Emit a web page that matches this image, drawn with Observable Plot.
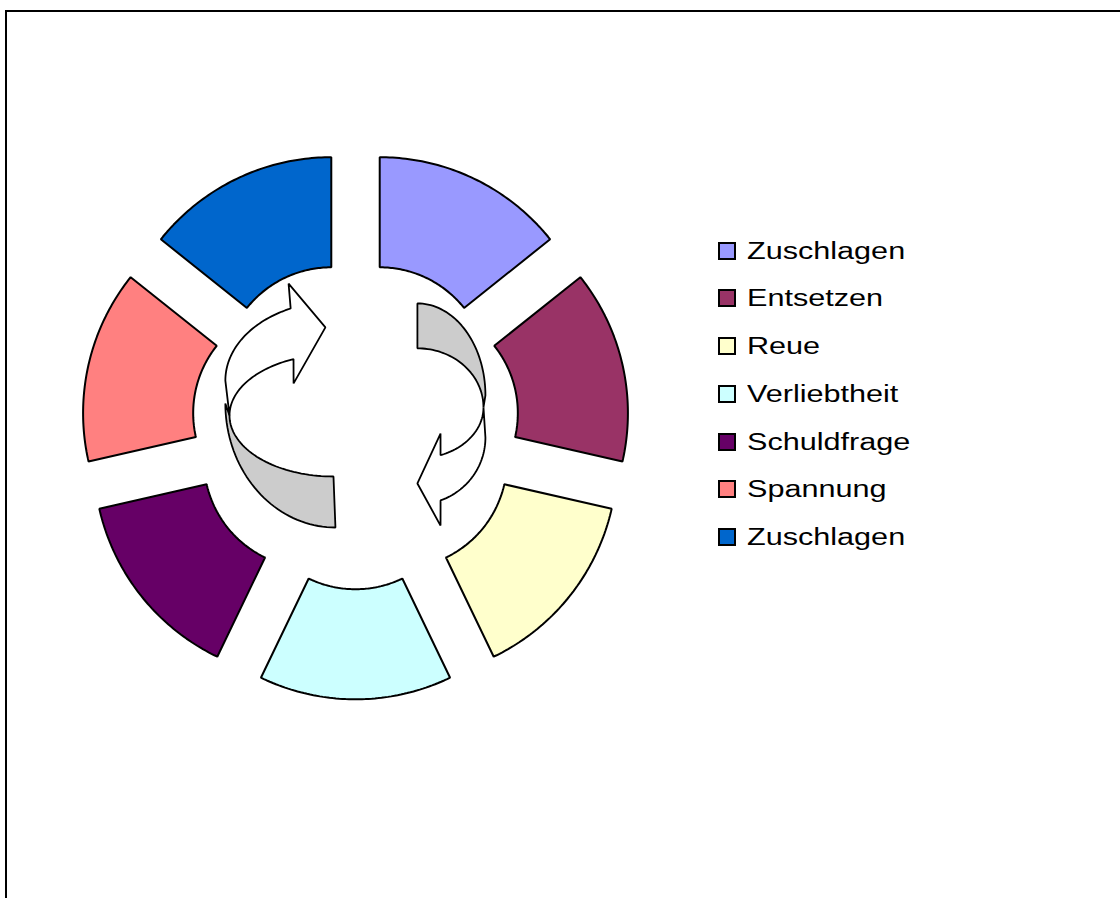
<!DOCTYPE html>
<html>
<head>
<meta charset="utf-8">
<script src="https://cdn.jsdelivr.net/npm/d3@7"></script>
<script src="https://cdn.jsdelivr.net/npm/@observablehq/plot@0.6"></script>
<style>
  html, body { margin: 0; padding: 0; background: #fff; overflow: hidden; }
  #wrap { position: relative; width: 1120px; height: 898px; overflow: hidden; }
  #frame { position: absolute; left: 5px; top: 10px; width: 1115px; height: 888px; border-top: 2px solid #000; border-left: 2px solid #000; box-sizing: border-box; }
  #chart { position: absolute; left: 0; top: 0; }
  #legend { position: absolute; left: 718px; top: 0; font-family: "Liberation Sans", Arial, sans-serif; font-size: 23px; color: #000; }
  .item { position: absolute; left: 0; height: 18px; white-space: nowrap; }
  .sw { position: absolute; left: 0; top: 0; width: 18px; height: 18px; box-sizing: border-box; border: 2px solid #000; }
  .lb { position: absolute; left: 29px; top: -5px; line-height: 28px; transform: scaleX(1.33); transform-origin: left center; }
</style>
</head>
<body>
<div id="wrap">
  <div id="frame"></div>
  <div id="chart"></div>
  <div id="legend"></div>
</div>
<script>
// ---- data ----
const categories = ["Zuschlagen", "Entsetzen", "Reue", "Verliebtheit", "Schuldfrage", "Spannung", "Zuschlagen"];
const values = [1, 1, 1, 1, 1, 1, 1];
const colors = ["#9999FF", "#993366", "#FFFFCC", "#CCFFFF", "#660066", "#FF8080", "#0066CC"];
const holeRatio = 0.495;   // inner radius / outer radius
const explodeRatio = 0.256; // explosion offset / outer radius

// decorative circular arrows (ellipse arcs in chart units: cx, cy, rx, ry, deg0, deg1)
const arrowGrey = [
  {id: "L", parts: [["arc", -0.092, 0.101, 0.505, 0.569, 180, 270], ["arc", -0.101, 0.046, 0.477, 0.280, 270, 180]]},
  {id: "R", parts: [["arc", 0.284, 0.138, 0.312, 0.422, 90, 0], ["arc", 0.284, 0.083, 0.303, 0.271, 0, 90]]}
];
const arrowWhite = [
  {id: "L", parts: [["arc", -0.092, 0.206, 0.505, 0.362, 180, 114], ["pts", [[-0.307, 0.651], [-0.138, 0.450], [-0.284, 0.193]]], ["arc", -0.101, 0.046, 0.477, 0.280, 112.6, 180]]},
  {id: "R", parts: [["arc", 0.284, -0.055, 0.312, 0.307, 0, -70.1], ["pts", [[0.390, -0.459], [0.284, -0.266], [0.390, -0.037]]], ["arc", 0.284, 0.083, 0.303, 0.234, -69.5, 0]]}
];

// ---- build slice polygons from values ----
const arcs = d3.pie().sort(null)(values);
const slicePts = [];
arcs.forEach((a, i) => {
  const mid = (a.startAngle + a.endAngle) / 2;
  const ox = explodeRatio * Math.sin(mid), oy = explodeRatio * Math.cos(mid);
  const N = 60;
  for (let k = 0; k <= N; k++) {
    const t = a.startAngle + (a.endAngle - a.startAngle) * k / N;
    slicePts.push({id: i, name: categories[i], color: colors[i], x: ox + Math.sin(t), y: oy + Math.cos(t)});
  }
  for (let k = N; k >= 0; k--) {
    const t = a.startAngle + (a.endAngle - a.startAngle) * k / N;
    slicePts.push({id: i, name: categories[i], color: colors[i], x: ox + holeRatio * Math.sin(t), y: oy + holeRatio * Math.cos(t)});
  }
});

function shapePoints(shapes) {
  const out = [];
  shapes.forEach(s => {
    s.parts.forEach(p => {
      if (p[0] === "arc") {
        const [, cx, cy, rx, ry, d0, d1] = p;
        const n = 40;
        for (let k = 0; k <= n; k++) {
          const t = (d0 + (d1 - d0) * k / n) * Math.PI / 180;
          out.push({id: s.id, x: cx + rx * Math.cos(t), y: cy + ry * Math.sin(t)});
        }
      } else {
        p[1].forEach(([x, y]) => out.push({id: s.id, x, y}));
      }
    });
  });
  return out;
}

const chart = Plot.plot({
  width: 1120,
  height: 898,
  margin: 0,
  x: {domain: [-1, 1], range: [137, 573], axis: null},
  y: {domain: [-1, 1], range: [643, 207], axis: null},
  color: {type: "identity"},
  marks: [
    Plot.line(slicePts, {x: "x", y: "y", z: "id", fill: "color", stroke: "#000", strokeWidth: 2, curve: "linear-closed", strokeLinejoin: "miter"}),
    Plot.line(shapePoints(arrowGrey), {x: "x", y: "y", z: "id", fill: "#CCCCCC", stroke: "#000", strokeWidth: 1.8, curve: "linear-closed", strokeLinejoin: "miter"}),
    Plot.line(shapePoints(arrowWhite), {x: "x", y: "y", z: "id", fill: "#FFFFFF", stroke: "#000", strokeWidth: 1.8, curve: "linear-closed", strokeLinejoin: "miter"})
  ]
});
chart.style.background = "transparent";
document.getElementById("chart").appendChild(chart);

// ---- legend ----
const legend = document.getElementById("legend");
categories.forEach((c, i) => {
  const item = document.createElement("div");
  item.className = "item";
  item.style.top = (241.5 + i * 47.75) + "px";
  const sw = document.createElement("div");
  sw.className = "sw";
  sw.style.background = colors[i];
  const lb = document.createElement("div");
  lb.className = "lb";
  lb.textContent = c;
  item.appendChild(sw);
  item.appendChild(lb);
  legend.appendChild(item);
});
</script>
</body>
</html>
